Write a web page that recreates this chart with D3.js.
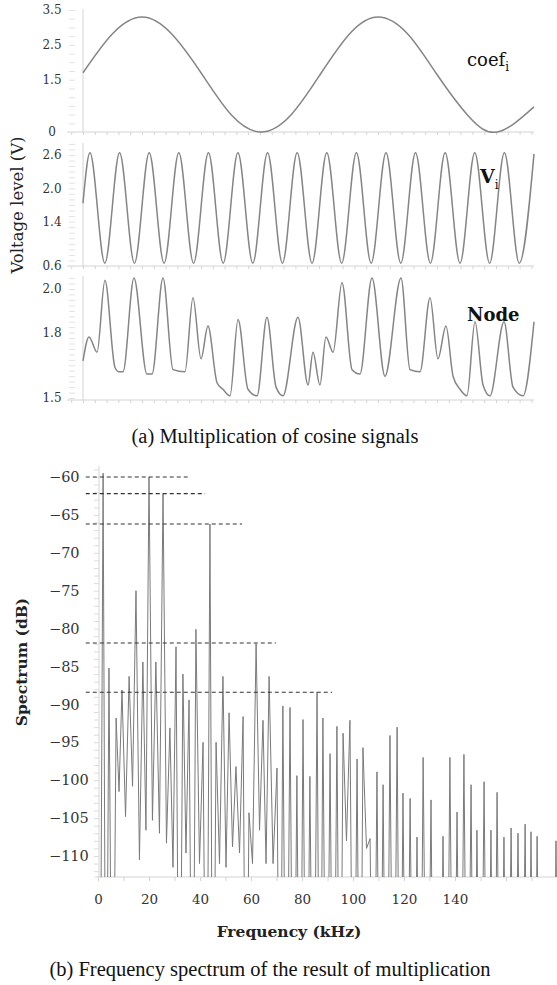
<!DOCTYPE html>
<html><head><meta charset="utf-8">
<script src="https://cdn.jsdelivr.net/npm/d3@7"></script>
<style>body{margin:0;background:#fff}svg{display:block}</style>
</head><body><svg id="c" width="557" height="985"></svg>
<script>
// ---------- (a) time-domain signals (time in x-tick units) ----------
const coefT = [0, 2.5, 5, 7.5, 10.1, 12.6, 15.1, 17.6, 20.1, 22.6, 25, 27.5, 30, 32.6, 35.1, 38.22];
const coefV = [1.70, 2.82, 3.30, 2.82, 1.65, 0.48, 0.0, 0.48, 1.65, 2.82, 3.30, 2.82, 1.65, 0.48, 0.0, 0.72];

const viT = [0, 0.59, 1.85, 3.10, 4.36, 5.61, 6.87, 8.12, 9.37, 10.63, 11.88, 13.13, 14.39, 15.64, 16.90, 18.15,
  19.41, 20.66, 21.92, 23.17, 24.42, 25.68, 26.93, 28.18, 29.44, 30.69, 31.95, 33.20, 34.46, 35.71, 36.97, 38.22];
const viV = [1.73, 2.64, 0.65, 2.64, 0.65, 2.64, 0.65, 2.64, 0.65, 2.64, 0.65, 2.64, 0.65, 2.64, 0.65, 2.64,
  0.65, 2.64, 0.65, 2.64, 0.65, 2.64, 0.65, 2.64, 0.65, 2.64, 0.65, 2.64, 0.65, 2.64, 0.65, 2.62];

const nodeT = [0, 0.51, 1.19, 1.86, 2.71, 3.05, 3.39, 4.32, 5.42, 5.85, 6.78, 7.63, 8.64, 9.32, 10.0, 10.59,
  11.36, 11.86, 12.46, 13.14, 13.98, 14.75, 15.59, 16.36, 16.95, 18.22, 19.07, 19.49, 20.08, 20.59, 21.19, 21.95,
  22.80, 23.47, 24.49, 25.59, 26.95, 27.71, 28.56, 29.41, 30.08, 30.76, 31.36, 31.95, 32.54, 33.22, 33.90, 34.49,
  35.68, 36.44, 37.29, 38.22];
const nodeV = [1.67, 1.78, 1.71, 2.04, 1.64, 1.62, 1.62, 2.05, 1.61, 1.61, 2.05, 1.63, 1.62, 1.96, 1.68, 1.83,
  1.57, 1.54, 1.51, 1.86, 1.54, 1.51, 1.87, 1.55, 1.51, 1.87, 1.56, 1.71, 1.56, 1.78, 1.71, 2.03,
  1.63, 1.61, 2.05, 1.60, 2.05, 1.63, 1.62, 1.96, 1.68, 1.83, 1.60, 1.54, 1.51, 1.85, 1.56, 1.51,
  1.85, 1.55, 1.51, 1.85];

const coefTicks = [0, 1.5, 2.5, 3.5];
const viTicks = [0.6, 1.4, 2.0, 2.6];
const nodeTicks = [1.5, 1.8, 2.0];

// ---------- (b) spectrum ----------
const specFreq = [2.0, 4.3, 7.1, 9.4, 12.2, 14.9, 17.6, 20.0, 22.7, 25.5, 28.2, 30.6, 33.3, 35.7, 38.4, 41.2,
  43.9, 46.3, 49.0, 51.4, 54.1, 56.9, 59.2, 62.0, 64.7, 67.1, 70.2, 72.5, 75.3, 78.0, 80.4, 83.1, 85.9, 88.2,
  91.0, 93.7, 96.1, 98.8, 101.6, 103.9, 106.7, 109.4, 111.8, 114.5, 117.3, 119.6, 122.4, 125.1, 127.5, 130.6,
  132.9, 135.3, 138.0, 140.8, 143.5, 146.3, 148.6, 151.4, 154.1, 156.5, 159.2, 162.0, 164.7, 167.5, 169.8,
  172.2, 174.9, 177.3, 179.6];
const specPeak = [-59.5, -85.2, -91.8, -88.1, -86.3, -75.0, -84.4, -60.0, -84.4, -62.2, -93.1, -82.4, -86.0,
  -89.4, -80.1, -95.0, -66.2, -95.0, -86.3, -91.1, -98.2, -91.6, -104.3, -82.0, -92.1, -86.3, -98.4, -90.2,
  -90.4, -99.4, -92.0, -99.5, -88.4, -91.8, -96.5, -92.9, -93.8, -92.1, -97.2, -95.7, -107.7, -98.9, -100.6,
  -94.1, -93.0, -101.7, -102.4, -107.5, -97.0, -102.6, -116, -107.4, -97.0, -104.2, -96.6, -100.6, -106.6,
  -100.2, -106.6, -101.6, -107.5, -106.3, -107.0, -105.8, -106.8, -107.4, -116, -116, -108.0];
// level of the trace between consecutive peaks (first/last = outside ends)
const specValley = [-150,
  -150, -150, -101.5, -104.8, -100.8, -110.5, -106.6, -105.3, -107, -108.3,
  -111.5, -150, -109.6, -150, -111, -150, -150, -111, -111.5, -108.8,
  -109.6, -150, -111, -106.6, -111, -111, -150, -150, -150, -150,
  -150, -150, -150, -150, -150, -150, -108, -150, -150, -109,
  -150, -150, -150, -150, -150, -150, -150, -150, -150, -150,
  -150, -150, -150, -150, -150, -150, -150, -150, -150, -150,
  -150, -150, -150, -150, -150, -150, -150, -150,
  -150];
const dashLevel = [-60, -62.2, -66.2, -81.9, -88.4];
const dashEnd = [36.1, 42.0, 56.5, 69.8, 91.8];
const specYTicks = [-60, -65, -70, -75, -80, -85, -90, -95, -100, -105, -110];
const specXTicks = [0, 20, 40, 60, 80, 100, 120, 140];

// ====================================================================
const svg = d3.select('#c');
const SERIF = "'DejaVu Serif', serif";
const AXC = '#d4d4d4';
const LINEC = '#858585';

const xT = d3.scaleLinear().domain([0, 38.22]).range([83, 534]);

const panels = [
  {y: d3.scaleLinear().domain([0, 3.5]).range([132, 10]), top: 9, base: 132,
   ticks: coefTicks, minor: d3.range(0, 3.51, 0.25), t: coefT, v: coefV, curve: d3.curveNatural},
  {y: d3.scaleLinear().domain([0.6, 2.6]).range([266, 155]), top: 143, base: 266,
   ticks: viTicks, minor: d3.range(0.6, 2.85, 0.1), t: viT, v: viV, curve: d3.curveMonotoneX},
  {y: d3.scaleLinear().domain([1.5, 2.0]).range([398, 289]), top: 276, base: 400,
   ticks: nodeTicks, minor: d3.range(1.5, 2.06, 0.025), t: nodeT, v: nodeV, curve: d3.curveMonotoneX}
];

panels.forEach((p, i) => {
  const g = svg.append('g');
  const xa = g.append('g').attr('transform', `translate(0,${p.base})`)
    .call(d3.axisBottom(xT).tickValues(d3.range(-1, 39, 1)).tickSize(3).tickFormat(''));
  xa.select('.domain').remove();
  xa.selectAll('line').attr('stroke', AXC);
  g.append('line').attr('x1', 67).attr('x2', 534).attr('y1', p.base).attr('y2', p.base)
    .attr('stroke', AXC).attr('stroke-width', 1.2);
  g.append('line').attr('x1', 83).attr('x2', 83).attr('y1', p.top).attr('y2', p.base)
    .attr('stroke', AXC).attr('stroke-width', 1);
  const ma = g.append('g').attr('transform', 'translate(75,0)')
    .call(d3.axisLeft(p.y).tickValues(p.minor.filter(v => p.y(v) >= p.top && p.y(v) <= p.base)).tickSize(6).tickFormat(''));
  ma.select('.domain').remove();
  ma.selectAll('line').attr('stroke', '#e2e2e2');
  const la = g.append('g').attr('transform', 'translate(83,0)')
    .call(d3.axisLeft(p.y).tickValues(p.ticks).tickSize(0)
      .tickFormat(v => v === 0 ? '0' : d3.format('.1f')(v)));
  la.select('.domain').remove();
  la.attr('font-family', SERIF);
  la.selectAll('text').attr('x', -31).attr('text-anchor', 'middle')
    .style('font-family', SERIF).attr('font-size', 12).attr('fill', '#333');
  const pts = p.t.map((t, k) => [t, p.v[k]]);
  g.append('path').datum(pts)
    .attr('d', d3.line().x(d => xT(d[0])).y(d => p.y(d[1])).curve(p.curve))
    .attr('fill', 'none').attr('stroke', LINEC).attr('stroke-width', 1.5);
});

const lab1 = svg.append('text').attr('x', 467).attr('y', 66).style('font-family', SERIF)
  .attr('font-size', 18).attr('fill', '#111');
lab1.append('tspan').text('coef');
lab1.append('tspan').attr('font-size', 12).attr('dy', 5).text('i');
const lab2 = svg.append('text').attr('x', 480).attr('y', 183).style('font-family', SERIF)
  .attr('font-size', 19).attr('font-weight', 'bold').attr('fill', '#111');
lab2.append('tspan').text('V');
lab2.append('tspan').attr('font-size', 12).attr('font-weight', 'normal').attr('dy', 6).text('i');
svg.append('text').attr('x', 467).attr('y', 321).style('font-family', SERIF)
  .attr('font-size', 18).attr('font-weight', 'bold').attr('fill', '#111').text('Node');

svg.append('text').attr('transform', 'translate(23,205) rotate(-90)').attr('text-anchor', 'middle')
  .style('font-family', SERIF).attr('font-size', 16.5).attr('fill', '#222').text('Voltage level (V)');

svg.append('text').attr('x', 275).attr('y', 443).attr('text-anchor', 'middle')
  .style('font-family', "'Liberation Serif', serif").attr('font-size', 20.5).attr('fill', '#111')
  .text('(a) Multiplication of cosine signals');

// ---------- spectrum ----------
const xS = d3.scaleLinear().domain([0, 180]).range([98, 557]);
const yS = d3.scaleLinear().domain([-60, -110]).range([477, 856]);
const plotTop = 466, plotBottom = 877;

svg.append('defs').append('clipPath').attr('id', 'sc')
  .append('rect').attr('x', 99).attr('y', plotTop).attr('width', 460).attr('height', plotBottom - plotTop);

const sx = svg.append('g').attr('transform', `translate(0,${plotBottom})`)
  .call(d3.axisBottom(xS).tickValues(d3.range(0, 181, 10)).tickSize(4).tickFormat(''));
sx.select('.domain').remove();
sx.selectAll('line').attr('stroke', AXC);
svg.append('line').attr('x1', 95).attr('x2', 557).attr('y1', plotBottom).attr('y2', plotBottom)
  .attr('stroke', AXC).attr('stroke-width', 1.2);
const sxl = svg.append('g').attr('transform', `translate(0,${plotBottom})`)
  .call(d3.axisBottom(xS).tickValues(specXTicks).tickSize(0).tickPadding(17));
sxl.select('.domain').remove();
sxl.attr('font-family', SERIF);
sxl.selectAll('text').style('font-family', SERIF).attr('font-size', 13.5).attr('fill', '#333');

svg.append('line').attr('x1', 99).attr('x2', 99).attr('y1', plotTop).attr('y2', plotBottom)
  .attr('stroke', AXC).attr('stroke-width', 1);
const sym = svg.append('g').attr('transform', 'translate(99,0)')
  .call(d3.axisLeft(yS).tickValues(d3.range(-59, -113, -1)).tickSize(5).tickFormat(''));
sym.select('.domain').remove();
sym.selectAll('line').attr('stroke', '#dcdcdc');
const syl = svg.append('g').attr('transform', 'translate(99,0)')
  .call(d3.axisLeft(yS).tickValues(specYTicks).tickSize(0));
syl.select('.domain').remove();
syl.attr('font-family', SERIF);
syl.selectAll('text').attr('x', -50).attr('text-anchor', 'start')
  .style('font-family', SERIF).attr('font-size', 14.5).attr('fill', '#333');

const tr = [];
const n = specFreq.length;
tr.push([specFreq[0] - 1.3, specValley[0]]);
for (let k = 0; k < n; k++) {
  tr.push([specFreq[k], specPeak[k]]);
  const nx = k < n - 1 ? (specFreq[k] + specFreq[k + 1]) / 2 : specFreq[k] + 1.3;
  tr.push([nx, specValley[k + 1]]);
}
svg.append('path').datum(tr).attr('clip-path', 'url(#sc)')
  .attr('d', d3.line().x(d => xS(d[0])).y(d => yS(d[1])))
  .attr('fill', 'none').attr('stroke', '#7a7a7a').attr('stroke-width', 1);

svg.append('g').selectAll('line').data(dashLevel).join('line')
  .attr('x1', xS(-4.8)).attr('x2', (d, k) => xS(dashEnd[k]))
  .attr('y1', d => yS(d)).attr('y2', d => yS(d))
  .attr('stroke', '#333').attr('stroke-width', 1.2).attr('stroke-dasharray', '4,3');

svg.append('text').attr('x', 289).attr('y', 937).attr('text-anchor', 'middle')
  .style('font-family', SERIF).attr('font-size', 15.5).attr('font-weight', 'bold').attr('fill', '#222')
  .text('Frequency (kHz)');
svg.append('text').attr('transform', 'translate(27,662) rotate(-90)').attr('text-anchor', 'middle')
  .style('font-family', SERIF).attr('font-size', 15.5).attr('font-weight', 'bold').attr('fill', '#222')
  .text('Spectrum (dB)');

svg.append('text').attr('x', 270).attr('y', 976).attr('text-anchor', 'middle')
  .style('font-family', "'Liberation Serif', serif").attr('font-size', 20.5).attr('fill', '#111')
  .text('(b) Frequency spectrum of the result of multiplication');
</script></body></html>
